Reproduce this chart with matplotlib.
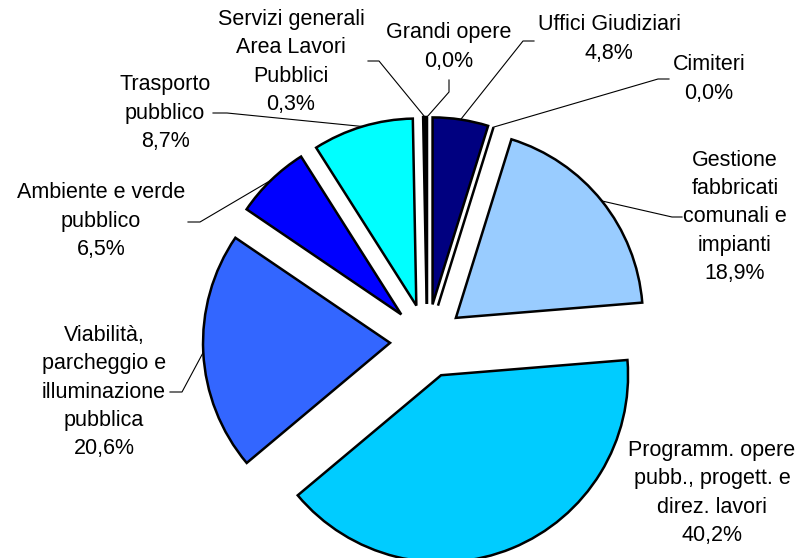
import math

import matplotlib
matplotlib.use("Agg")
import matplotlib.pyplot as plt

W, H = 800, 558

categories = [
    "Grandi opere",
    "Uffici Giudiziari",
    "Cimiteri",
    "Gestione\nfabbricati\ncomunali e\nimpianti",
    "Programm. opere\npubb., progett. e\ndirez. lavori",
    "Viabilità,\nparcheggio e\nilluminazione\npubblica",
    "Ambiente e verde\npubblico",
    "Trasporto\npubblico",
    "Servizi generali\nArea Lavori\nPubblici",
]
shares = [0.0, 4.8, 0.0, 18.9, 40.2, 20.6, 6.5, 8.7, 0.3]
colors = ["#FFFFFF", "#000080", "#FFFFFF", "#99CCFF", "#00CCFF",
          "#3366FF", "#0000FF", "#00FFFF", "#000000"]

# label layout in pixels from top-left: text centre, leader start, elbow
layout = [
    ((449, 47), (449, 80), (449, 92)),
    ((609, 39), (534, 41), (523, 41)),
    ((709, 79), (669, 79), (658, 79)),
    ((735, 217), (682, 217), (672, 217)),
    ((712, 493), None, None),
    ((104, 392), (170, 392), (182, 392)),
    ((101, 221), (188, 222), (200, 222)),
    ((165, 113), (213, 113), (227, 113)),
    ((291, 62), (368, 61), (379, 61)),
]


def px(p):
    return p[0], H - p[1]


plt.rcParams["font.family"] = ["Liberation Sans", "DejaVu Sans"]

fig = plt.figure(figsize=(W / 100, H / 100), dpi=100)
ax = fig.add_axes([0, 0, 1, 1])

radius = 187
wedges, _ = ax.pie(shares, colors=colors, startangle=90, counterclock=False,
                   center=(427, H - 341), radius=radius, explode=[37] * len(shares),
                   wedgeprops=dict(edgecolor="black", linewidth=1.8, joinstyle="miter"))

for w, name, v, (tc, start, elbow) in zip(wedges, categories, shares, layout):
    txt = name + "\n" + f"{v:.1f}".replace(".", ",") + "%"
    ax.text(*px(tc), txt, ha="center", va="center", fontsize=15.5,
            linespacing=1.45, color="black")
    if start is None:
        continue
    ang = math.radians((w.theta1 + w.theta2) / 2)
    cx, cy = w.center
    tx, ty = cx + w.r * math.cos(ang), cy + w.r * math.sin(ang)
    sx, sy = px(start)
    ex, ey = px(elbow)
    ax.plot([sx, ex, tx], [sy, ey, ty], color="black", lw=0.8)

ax.set_xlim(0, W)
ax.set_ylim(0, H)
ax.set_aspect("equal")
ax.axis("off")

fig.savefig("out.png", dpi=100)
